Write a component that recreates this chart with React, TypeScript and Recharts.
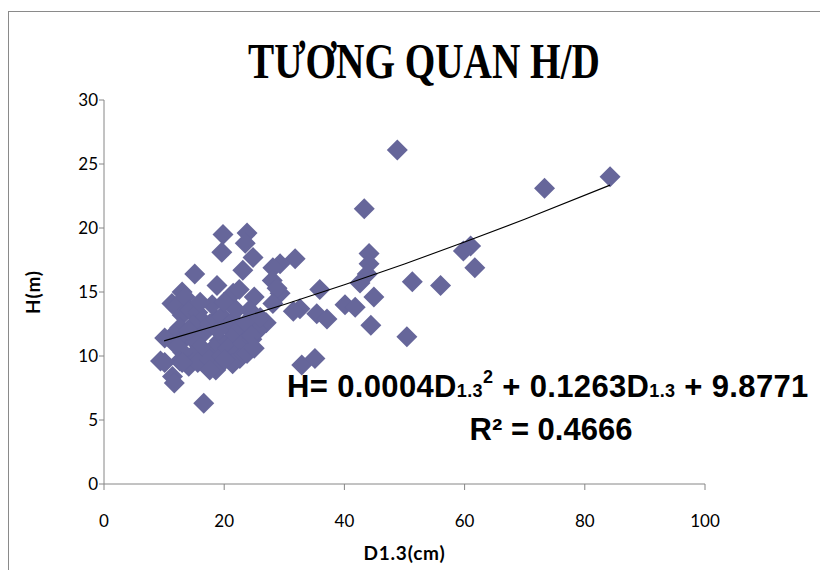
import React from "react";
import { ScatterChart, Scatter, XAxis, YAxis } from "recharts";

// measured trees: [D1.3 (cm), H (m)]
const trees: [number, number][] = [
  [84.2, 24.0], [73.3, 23.1], [48.8, 26.1], [43.3, 21.5], [61.0, 18.6],
  [59.8, 18.2], [61.7, 16.9], [56.0, 15.5], [51.3, 15.8], [50.4, 11.5],
  [44.1, 18.0], [44.1, 17.2], [43.8, 16.4], [42.6, 15.7], [44.9, 14.6],
  [44.4, 12.4], [40.1, 14.0], [41.8, 13.8], [35.9, 15.2], [32.6, 13.7],
  [35.4, 13.3], [37.1, 12.9], [31.5, 13.5], [32.9, 9.3], [35.1, 9.8],
  [31.8, 17.6], [29.3, 17.2], [29.3, 14.9], [28.1, 16.9], [28.0, 15.9],
  [28.8, 15.3], [27.0, 12.6], [28.1, 14.1], [19.8, 19.5], [23.8, 19.6],
  [19.6, 18.1], [23.5, 18.8], [24.8, 17.7], [23.1, 16.7], [15.1, 16.4],
  [18.8, 15.5], [21.5, 14.9], [22.5, 15.2], [13.0, 15.0], [11.3, 14.1],
  [25.0, 14.6], [12.0, 13.8], [13.5, 14.6], [13.0, 13.2], [14.3, 13.6],
  [15.6, 13.4], [16.3, 12.8], [14.8, 12.4], [12.6, 12.2], [11.6, 11.7],
  [13.7, 11.5], [15.2, 11.1], [16.8, 11.9], [17.6, 12.5], [18.6, 12.9],
  [19.6, 13.1], [20.6, 12.3], [21.6, 12.8], [22.4, 12.1], [23.6, 12.6],
  [21.2, 11.4], [19.2, 11.2], [18.2, 10.6], [17.1, 10.2], [16.1, 10.7],
  [14.6, 10.0], [13.1, 10.3], [12.1, 10.8], [12.6, 9.6], [14.1, 9.2],
  [15.6, 9.5], [17.6, 9.7], [19.6, 10.0], [20.6, 10.6], [22.1, 10.2],
  [23.1, 11.0], [24.6, 11.3], [25.6, 12.0], [22.6, 9.8], [21.4, 9.4],
  [18.6, 8.9], [17.6, 8.9], [11.4, 8.4], [11.7, 7.9], [9.4, 9.6],
  [10.1, 11.4], [10.1, 9.5], [16.6, 6.3], [24.2, 13.6], [20.1, 9.7],
  [23.8, 10.2], [13.0, 9.5], [24.6, 11.6], [18.0, 14.0], [20.0, 14.2],
  [16.0, 14.2], [22.0, 13.6], [26.0, 13.0], [25.0, 10.6], [14.0, 12.0],
  [19.0, 12.0],
];

// polynomial trend H = 0.0004D² + 0.1263D + 9.8771, sampled along D
const trendD = [10, 20, 30, 40, 50, 60, 70, 84.2];
const trendH = [11.18, 12.56, 14.03, 15.57, 17.19, 18.9, 20.68, 23.35];

const xTicks = [0, 20, 40, 60, 80, 100];
const yTicks = [0, 5, 10, 15, 20, 25, 30];

const points = trees.map(([d, h]) => ({ d, h }));
const trend = trendD.map((d, i) => ({ d, h: trendH[i] }));

const Diamond = (props: any) => {
  const { cx, cy } = props;
  const r = 10.5;
  return (
    <polygon
      points={`${cx},${cy - r} ${cx + r},${cy} ${cx},${cy + r} ${cx - r},${cy}`}
      fill="#66669a"
    />
  );
};

const uiFont = "Lato, 'Open Sans', sans-serif";
const tickStyle = { fill: "#000", fontSize: 17, fontFamily: uiFont };
const axisTitle = {
  fill: "#000",
  fontSize: 19,
  fontWeight: 700,
  letterSpacing: 0.8,
  fontFamily: uiFont,
};
const eqFont = "'Liberation Sans', Arial, sans-serif";
const small = { fontSize: 18 };

export default function App() {
  return (
    <div
      style={{
        position: "fixed",
        left: 0,
        top: 0,
        width: 820,
        height: 570,
        overflow: "hidden",
        background: "#fff",
      }}
    >
      <div
        style={{
          position: "absolute",
          left: 8,
          top: 11,
          width: 900,
          height: 700,
          border: "1px solid #8a8a8a",
        }}
      />
      <div
        style={{
          position: "absolute",
          left: 424,
          top: 36,
          transform: "translateX(-50%) scaleX(0.785)",
          whiteSpace: "nowrap",
          fontFamily: "'Liberation Serif', 'Times New Roman', serif",
          fontWeight: 700,
          fontSize: 50,
          lineHeight: 1,
        }}
      >
        TƯƠNG QUAN H/D
      </div>
      <div style={{ position: "absolute", left: 0, top: 0 }}>
        <ScatterChart width={820} height={570} margin={{ top: 100, right: 115, bottom: 0, left: 0 }}>
          <XAxis
            dataKey="d"
            type="number"
            domain={[0, 100]}
            ticks={xTicks}
            height={86}
            tickSize={6}
            tickMargin={25}
            stroke="#868686"
            tick={tickStyle}
            label={{ value: "D1.3(cm)", position: "center", dy: 26, ...axisTitle }}
          />
          <YAxis
            dataKey="h"
            type="number"
            domain={[0, 30]}
            ticks={yTicks}
            width={104}
            tickSize={5}
            tickMargin={1}
            stroke="#868686"
            tick={tickStyle}
            label={{ value: "H(m)", angle: -90, position: "center", dx: -19, ...axisTitle }}
          />
          <Scatter data={points} shape={Diamond} isAnimationActive={false} />
          <Scatter
            data={trend}
            line={{ stroke: "#000", strokeWidth: 1.1 }}
            lineType="joint"
            shape={() => <g />}
            isAnimationActive={false}
          />
        </ScatterChart>
      </div>
      <div
        style={{
          position: "absolute",
          left: 287,
          top: 371,
          whiteSpace: "nowrap",
          fontFamily: eqFont,
          fontWeight: 700,
          fontSize: 31,
          letterSpacing: 0.35,
          lineHeight: 1,
        }}
      >
        H= 0.0004D<span style={small}>1.3</span>
        <span style={{ ...small, position: "relative", top: -14 }}>2</span> + 0.1263D
        <span style={small}>1.3</span> + 9.8771
      </div>
      <div
        style={{
          position: "absolute",
          left: 551,
          top: 414,
          transform: "translateX(-50%)",
          whiteSpace: "nowrap",
          fontFamily: eqFont,
          fontWeight: 700,
          fontSize: 31,
          lineHeight: 1,
        }}
      >
        R² = 0.4666
      </div>
    </div>
  );
}
